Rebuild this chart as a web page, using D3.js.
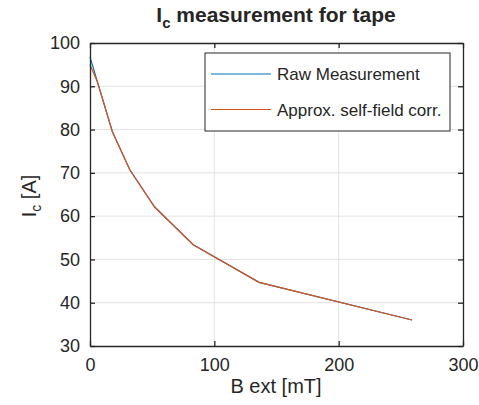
<!DOCTYPE html>
<html lang="en">
<head>
  <meta charset="UTF-8">
  <title>Ic measurement for tape</title>
  <script src="https://cdnjs.cloudflare.com/ajax/libs/d3/7.8.5/d3.min.js"></script>
  <style>
    body { margin: 0; background: #fff; }
    text { font-family: "Liberation Sans", Arial, sans-serif; fill: #262626; }
  </style>
</head>
<body>
<div id="chart"></div>
<script type="text/javascript">
  // data
  var bField = [0, 6, 18, 32, 52, 83, 136, 259];
  var rawIc = [96.8, 91.0, 79.5, 70.7, 62.1, 53.4, 44.7, 36.0];
  var corrIc = [95.0, 91.0, 79.5, 70.7, 62.1, 53.4, 44.7, 36.0];
  var xTicks = [0, 100, 200, 300];
  var yTicks = [30, 40, 50, 60, 70, 80, 90, 100];
  var seriesNames = ["Raw Measurement", "Approx. self-field corr."];
  var seriesColors = ["#0072BD", "#D95319"];

  var width = 479, height = 405;
  var plotL = 90, plotR = 463, plotT = 43, plotB = 346;

  var svg = d3.select("#chart").append("svg")
    .attr("width", width)
    .attr("height", height);

  var x = d3.scaleLinear().domain([0, 300]).range([plotL, plotR]);
  var y = d3.scaleLinear().domain([30, 100]).range([plotB, plotT]);

  // grid
  svg.append("g").selectAll("line").data(xTicks.slice(1, -1)).enter().append("line")
    .attr("x1", function(d) { return x(d); }).attr("x2", function(d) { return x(d); })
    .attr("y1", plotT).attr("y2", plotB)
    .attr("stroke", "#e3e3e3").attr("stroke-width", 1);
  svg.append("g").selectAll("line").data(yTicks.slice(1, -1)).enter().append("line")
    .attr("y1", function(d) { return y(d); }).attr("y2", function(d) { return y(d); })
    .attr("x1", plotL).attr("x2", plotR)
    .attr("stroke", "#e3e3e3").attr("stroke-width", 1);

  // lines
  var line = d3.line()
    .x(function(d, i) { return x(bField[i]); })
    .y(function(d) { return y(d); });
  [rawIc, corrIc].forEach(function(s, i) {
    svg.append("path")
      .attr("d", line(s))
      .attr("fill", "none")
      .attr("stroke", seriesColors[i])
      .attr("stroke-width", 1.2);
  });

  // axes with inward ticks, box on all sides
  var tick = 5;
  var xAxis = d3.axisBottom(x).tickValues(xTicks).tickSizeInner(-tick).tickSizeOuter(0).tickPadding(12);
  var yAxis = d3.axisLeft(y).tickValues(yTicks).tickSizeInner(-tick).tickSizeOuter(0).tickPadding(10);
  var gx = svg.append("g").attr("transform", "translate(0," + plotB + ")").call(xAxis);
  var gy = svg.append("g").attr("transform", "translate(" + plotL + ",0)").call(yAxis);
  var gx2 = svg.append("g").attr("transform", "translate(0," + plotT + ")")
    .call(d3.axisTop(x).tickValues(xTicks).tickSizeInner(-tick).tickSizeOuter(0).tickFormat(""));
  var gy2 = svg.append("g").attr("transform", "translate(" + plotR + ",0)")
    .call(d3.axisRight(y).tickValues(yTicks).tickSizeInner(-tick).tickSizeOuter(0).tickFormat(""));
  [gx, gy, gx2, gy2].forEach(function(g) {
    g.select(".domain").attr("stroke", "#262626").attr("stroke-width", 1.3);
    g.selectAll(".tick line").attr("stroke", "#262626").attr("stroke-width", 1.3);
    g.selectAll(".tick text").attr("fill", "#262626")
      .style("font-family", "'Liberation Sans', Arial, sans-serif").style("font-size", "18px");
  });

  // title
  var title = svg.append("text")
    .attr("x", 276).attr("y", 22)
    .attr("text-anchor", "middle")
    .style("font-size", "21px").style("font-weight", "bold");
  title.append("tspan").text("I");
  title.append("tspan").attr("dy", 6).style("font-size", "15px").text("c");
  title.append("tspan").attr("dy", -6).text(" measurement for tape");

  // axis labels
  svg.append("text")
    .attr("x", 276).attr("y", 393)
    .attr("text-anchor", "middle")
    .style("font-size", "20px")
    .text("B ext [mT]");
  var ylab = svg.append("text")
    .attr("transform", "translate(36,196) rotate(-90)")
    .attr("text-anchor", "middle")
    .style("font-size", "20px");
  ylab.append("tspan").text("I");
  ylab.append("tspan").attr("dy", 5).style("font-size", "14px").text("c");
  ylab.append("tspan").attr("dy", -5).text(" [A]");

  // legend
  var lg = svg.append("g");
  lg.append("rect")
    .attr("x", 205).attr("y", 53).attr("width", 245).attr("height", 78)
    .attr("fill", "#fff").attr("stroke", "#262626").attr("stroke-width", 1);
  seriesNames.forEach(function(name, i) {
    var ly = 74 + i * 35.5;
    lg.append("line")
      .attr("x1", 211).attr("x2", 271).attr("y1", ly).attr("y2", ly)
      .attr("stroke", seriesColors[i]).attr("stroke-width", 1.2);
    lg.append("text")
      .attr("x", 277).attr("y", ly + 6)
      .style("font-size", "17px")
      .text(name);
  });
</script>
</body>
</html>
